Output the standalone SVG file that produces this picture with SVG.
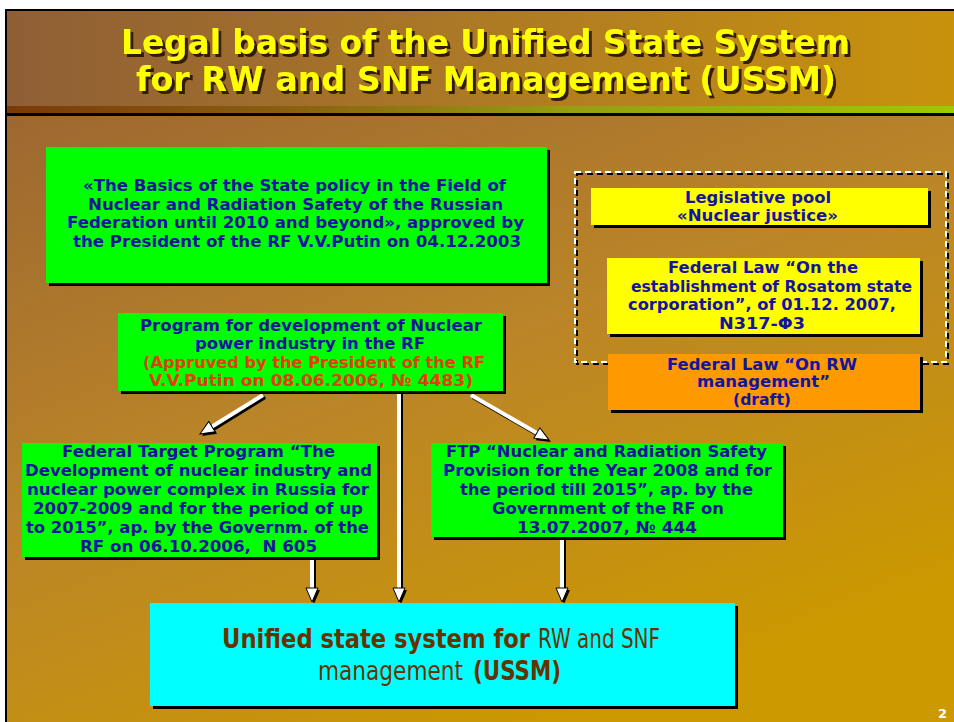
<svg xmlns="http://www.w3.org/2000/svg" width="954" height="722" viewBox="0 0 954 722">
<defs>
<linearGradient id="gTitle" x1="0" y1="0" x2="1" y2="0">
<stop offset="0" stop-color="#8f5e35"/><stop offset="0.5" stop-color="#ad7a25"/><stop offset="1" stop-color="#c9920c"/>
</linearGradient>
<linearGradient id="gStripe" x1="0" y1="0" x2="1" y2="0">
<stop offset="0" stop-color="#7a3a08"/><stop offset="0.3" stop-color="#8a6010"/><stop offset="0.6" stop-color="#95a010"/><stop offset="1" stop-color="#99cc00"/>
</linearGradient>
<linearGradient id="gBody" x1="0" y1="0" x2="0.6" y2="1">
<stop offset="0" stop-color="#9c6830"/><stop offset="0.5" stop-color="#bb8528"/><stop offset="1" stop-color="#cc9900"/>
</linearGradient>
<filter id="tshadow" x="-5%" y="-20%" width="110%" height="150%">
<feDropShadow dx="3" dy="3" stdDeviation="0.6" flood-color="#2a1800" flood-opacity="0.95"/>
</filter>
<marker id="ah" markerUnits="userSpaceOnUse" markerWidth="16" markerHeight="14" refX="4" refY="6" orient="auto" viewBox="-1 -1 16 14">
<path d="M0,0 L14,6 L0,12 z" fill="#ffffff" stroke="#000000" stroke-width="1"/>
</marker>
<marker id="ahs" markerUnits="userSpaceOnUse" markerWidth="16" markerHeight="14" refX="4" refY="6" orient="auto" viewBox="-1 -1 16 14">
<path d="M0,0 L14,6 L0,12 z" fill="#000000"/>
</marker>
</defs>
<style>
.t{font-family:"DejaVu Sans","Liberation Sans",sans-serif;font-weight:bold;font-size:16.5px;fill:#14149e}
.s{font-size:15.5px}
.red{fill:#e0400c}
.title{font-family:"DejaVu Sans Condensed","DejaVu Sans","Liberation Sans",sans-serif;font-weight:bold;font-size:34px;fill:#ffff00;filter:url(#tshadow)}
.c{font-family:"DejaVu Sans Condensed","DejaVu Sans","Liberation Sans",sans-serif;font-size:26px;fill:#663300}
.cb{font-weight:bold}
.sh{fill:#000000}
.green{fill:#00ff00}
.yellow{fill:#ffff00}
.orange{fill:#ff9900}
.cyan{fill:#00ffff}
.lnw{stroke:#ffffff;stroke-width:4;fill:none;marker-end:url(#ah)}
.lns{stroke:#000000;stroke-width:4;fill:none;marker-end:url(#ahs)}
</style>

<rect x="0" y="0" width="954" height="722" fill="#ffffff"/>
<rect x="5" y="9" width="960" height="720" fill="#000000"/>
<rect x="7" y="11" width="950" height="95" fill="url(#gTitle)"/>
<rect x="7" y="106" width="950" height="7" fill="url(#gStripe)"/>
<rect x="7" y="116" width="950" height="610" fill="url(#gBody)"/>

<g id="title">
<text class="title" x="121" y="54" textLength="729" lengthAdjust="spacingAndGlyphs">Legal basis of the Unified State System</text>
<text class="title" x="136" y="91" textLength="700" lengthAdjust="spacingAndGlyphs">for RW and SNF Management (USSM)</text>
</g>

<g id="connectors">
<path class="lns" d="M265,397 L210.5,430.7"/>
<path class="lnw" d="M263,395 L208.5,428.7"/>
<path class="lns" d="M401,393 L401,594"/>
<path class="lnw" d="M399,391 L399,592"/>
<path class="lns" d="M473,397 L542.3,437"/>
<path class="lnw" d="M471,395 L540.3,435"/>
<path class="lns" d="M314,559 L314,594"/>
<path class="lnw" d="M312,557 L312,592"/>
<path class="lns" d="M564,539 L564,594"/>
<path class="lnw" d="M562,537 L562,592"/>
</g>

<g id="basics">
<rect class="sh" x="49" y="150" width="501" height="136"/>
<rect class="green" x="46" y="147" width="501" height="136"/>
<text class="t" x="83" y="191" textLength="423" lengthAdjust="spacingAndGlyphs">«The Basics of the State policy in the Field of</text>
<text class="t" x="88" y="210" textLength="415" lengthAdjust="spacingAndGlyphs">Nuclear and Radiation Safety of the Russian</text>
<text class="t" x="67" y="228" textLength="457" lengthAdjust="spacingAndGlyphs">Federation until 2010 and beyond», approved by</text>
<text class="t" x="73" y="247" textLength="448" lengthAdjust="spacingAndGlyphs">the President of the RF V.V.Putin on 04.12.2003</text>
</g>

<g id="pool-frame">
<rect x="577" y="174" width="371" height="190" fill="none" stroke="#000000" stroke-width="2" stroke-dasharray="6 4"/>
<rect x="575" y="172" width="371" height="190" fill="none" stroke="#ffffff" stroke-width="2" stroke-dasharray="6 4"/>
</g>

<g id="pool">
<rect class="sh" x="594" y="191" width="337" height="37"/>
<rect class="yellow" x="591" y="188" width="337" height="37"/>
<text class="t" x="685" y="203" textLength="146" lengthAdjust="spacingAndGlyphs">Legislative pool</text>
<text class="t" x="677" y="221" textLength="161" lengthAdjust="spacingAndGlyphs">«Nuclear justice»</text>
</g>

<g id="rosatom-law">
<rect class="sh" x="610" y="261" width="313" height="76"/>
<rect class="yellow" x="607" y="258" width="313" height="76"/>
<text class="t" x="668" y="273" textLength="190" lengthAdjust="spacingAndGlyphs">Federal Law “On the</text>
<text class="t" x="631" y="292" textLength="281" lengthAdjust="spacingAndGlyphs">establishment of Rosatom state</text>
<text class="t" x="628" y="310" textLength="268" lengthAdjust="spacingAndGlyphs">corporation”, of 01.12. 2007,</text>
<text class="t" x="719" y="329" textLength="86" lengthAdjust="spacingAndGlyphs">N317-Φ3</text>
</g>

<g id="rw-law">
<rect class="sh" x="611" y="357" width="312" height="56"/>
<rect class="orange" x="608" y="354" width="312" height="56"/>
<text class="t s" x="667" y="370" textLength="190" lengthAdjust="spacingAndGlyphs">Federal Law “On RW</text>
<text class="t s" x="697" y="387" textLength="133" lengthAdjust="spacingAndGlyphs">management”</text>
<text class="t s" x="733" y="405" textLength="58" lengthAdjust="spacingAndGlyphs">(draft)</text>
</g>

<g id="program">
<rect class="sh" x="121" y="316" width="385" height="78"/>
<rect class="green" x="118" y="313" width="385" height="78"/>
<text class="t" x="140" y="331" textLength="342" lengthAdjust="spacingAndGlyphs">Program for development of Nuclear</text>
<text class="t" x="195" y="349" textLength="230" lengthAdjust="spacingAndGlyphs">power industry in the RF</text>
<text class="t red" x="143" y="368" textLength="342" lengthAdjust="spacingAndGlyphs">(Appruved by the President of the RF</text>
<text class="t red" x="149" y="386" textLength="324" lengthAdjust="spacingAndGlyphs">V.V.Putin on 08.06.2006, № 4483)</text>
</g>

<g id="ftp-industry">
<rect class="sh" x="25" y="446" width="355" height="114"/>
<rect class="green" x="22" y="443" width="355" height="114"/>
<text class="t" x="62" y="457" textLength="273" lengthAdjust="spacingAndGlyphs">Federal Target Program “The</text>
<text class="t" x="25" y="476" textLength="347" lengthAdjust="spacingAndGlyphs">Development of nuclear industry and</text>
<text class="t" x="27" y="495" textLength="342" lengthAdjust="spacingAndGlyphs">nuclear power complex in Russia for</text>
<text class="t" x="33" y="514" textLength="330" lengthAdjust="spacingAndGlyphs">2007-2009 and for the period of up</text>
<text class="t" x="26" y="533" textLength="343" lengthAdjust="spacingAndGlyphs">to 2015”, ap. by the Governm. of the</text>
<text class="t" x="80" y="552" textLength="237" lengthAdjust="spacingAndGlyphs" xml:space="preserve">RF on 06.10.2006,  N 605</text>
</g>

<g id="ftp-safety">
<rect class="sh" x="434" y="446" width="352" height="94"/>
<rect class="green" x="431" y="443" width="352" height="94"/>
<text class="t" x="446" y="457" textLength="321" lengthAdjust="spacingAndGlyphs">FTP “Nuclear and Radiation Safety</text>
<text class="t" x="443" y="476" textLength="329" lengthAdjust="spacingAndGlyphs">Provision for the Year 2008 and for</text>
<text class="t" x="460" y="495" textLength="293" lengthAdjust="spacingAndGlyphs">the period till 2015”, ap. by the</text>
<text class="t" x="492" y="514" textLength="232" lengthAdjust="spacingAndGlyphs">Government of the RF on</text>
<text class="t" x="517" y="533" textLength="180" lengthAdjust="spacingAndGlyphs">13.07.2007, № 444</text>
</g>

<g id="ussm">
<rect class="sh" x="153" y="606" width="585" height="103"/>
<rect class="cyan" x="150" y="603" width="585" height="103"/>
<text class="c cb" x="222" y="648" textLength="308" lengthAdjust="spacingAndGlyphs">Unified state system for</text>
<text class="c" x="538" y="648" textLength="122" lengthAdjust="spacingAndGlyphs">RW and SNF</text>
<text class="c" x="318" y="680" textLength="145" lengthAdjust="spacingAndGlyphs">management</text>
<text class="c cb" x="473" y="680" textLength="88" lengthAdjust="spacingAndGlyphs">(USSM)</text>
</g>

<text x="938" y="718" font-family="DejaVu Sans, sans-serif" font-weight="bold" font-size="13" fill="#ffffff">2</text>
</svg>
